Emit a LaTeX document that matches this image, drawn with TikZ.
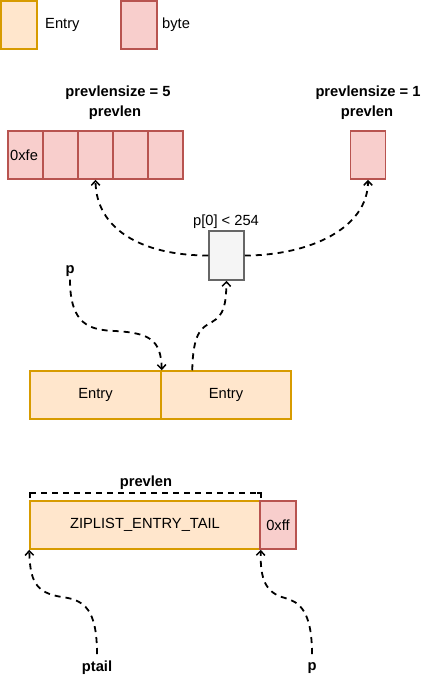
\documentclass[tikz,border=0pt]{standalone}
\usepackage{fontspec}
\setmainfont{Liberation Sans}
\usetikzlibrary{arrows.meta,calc}
\definecolor{entryfill}{HTML}{FFE6CC}
\definecolor{entrydraw}{HTML}{D79B00}
\definecolor{bytefill}{HTML}{F8CECC}
\definecolor{bytedraw}{HTML}{B85450}
\definecolor{grayfill}{HTML}{F5F5F5}
\definecolor{graydraw}{HTML}{666666}
\tikzset{
  every node/.style={font=\fontsize{14.7}{17}\selectfont, inner sep=0pt},
  entrybox/.style={draw=entrydraw, fill=entryfill, line width=1.5pt, minimum height=48pt},
  bytebox/.style={draw=bytedraw, fill=bytefill, line width=1.5pt, minimum height=48pt, minimum width=35pt},
  graybox/.style={draw=graydraw, fill=grayfill, line width=1.5pt, minimum height=49pt, minimum width=35pt},
  lbl/.style={font=\fontsize{14.7}{17}\selectfont\bfseries},
  conn/.style={line width=1.8pt, dash pattern=on 6pt off 5pt, -{Straight Barb[length=4.5pt,width=8.5pt,line width=1.5pt]}},
}
\begin{document}
\begin{tikzpicture}[x=1pt,y=-1pt]
\useasboundingbox (0,0) rectangle (429,682);
% legend
\node[entrybox, minimum width=36pt] (legE) at (19,25) {};
\node[anchor=west] (legEt) at (45,25) {Entry};
\node[bytebox, minimum width=36pt] (legB) at (139,25) {};
\node[anchor=west] (legBt) at (162,25) {byte};
% top byte groups
\node[lbl] (ps5) at (118,93) {prevlensize = 5};
\node[lbl] (pl5) at (115,113) {prevlen};
\node[bytebox] (b1) at (25.5,155) {};
\node[anchor=west] (b1t) at (10,155) {0xfe};
\node[bytebox] (b2) at (60.5,155) {};
\node[bytebox] (b3) at (95.5,155) {};
\node[bytebox] (b4) at (130.5,155) {};
\node[bytebox] (b5) at (165.5,155) {};
\node[lbl] (ps1) at (368,93) {prevlensize = 1};
\node[lbl] (pl1) at (367,113) {prevlen};
\node[bytebox] (rb) at (368,155) {};
% condition
\node[graybox] (g) at (226.5,255.5) {};
\node (gt) at (226,222) {p[0] < 254};
\draw[conn] (g.west) .. controls (140,255.5) and (96,228) .. (b3.south);
\draw[conn] (g.east) .. controls (310,255.5) and (368,228) .. (rb.south);
% entries
\node[entrybox, minimum width=131pt] (e1) at (95.5,395) {Entry};
\node[entrybox, minimum width=130pt] (e2) at (226,395) {Entry};
\node[lbl] (p1) at (70,271) {p};
\draw[conn] ($(p1.south)+(0,3)$) .. controls (70,325) and (90,330) .. (115,331)
  .. controls (150,333) and (161,340) .. (e1.north east);
\coordinate (e2src) at ($(e2.north west)+(32,0)$);
\draw[conn] (e2src) .. controls (193,335) and (200,328) .. (212,322)
  .. controls (224,315) and (226,305) .. (g.south);
% bottom
\node[lbl] (pl) at (146,483) {prevlen};
\node[entrybox, minimum width=230pt] (zip) at (145,525) {ZIPLIST\_ENTRY\_TAIL};
\node[bytebox, minimum width=36pt] (ff) at (278,525) {0xff};
\coordinate (brL) at (30,498);
\coordinate (brR) at (261,498);
\draw[line width=1.6pt] (brL) -- ++(0,-5) -- ++(4,0);
\draw[line width=1.6pt] (brR) -- ++(0,-5) -- ++(-4,0);
\draw[line width=1.6pt, dash pattern=on 6pt off 5pt] ($(brL)+(0,-5)$) -- ($(brR)+(0,-5)$);
\node[lbl] (pt) at (97,668) {ptail};
\node[lbl] (p2) at (312,668) {p};
\draw[conn] (97,654) .. controls (97,610) and (85,600) .. (62,597)
  .. controls (35,593) and (30,580) .. (zip.south west);
\draw[conn] (312,654) .. controls (312,612) and (300,602) .. (285,598)
  .. controls (266,593) and (260,580) .. (zip.south east);
\end{tikzpicture}
\end{document}
